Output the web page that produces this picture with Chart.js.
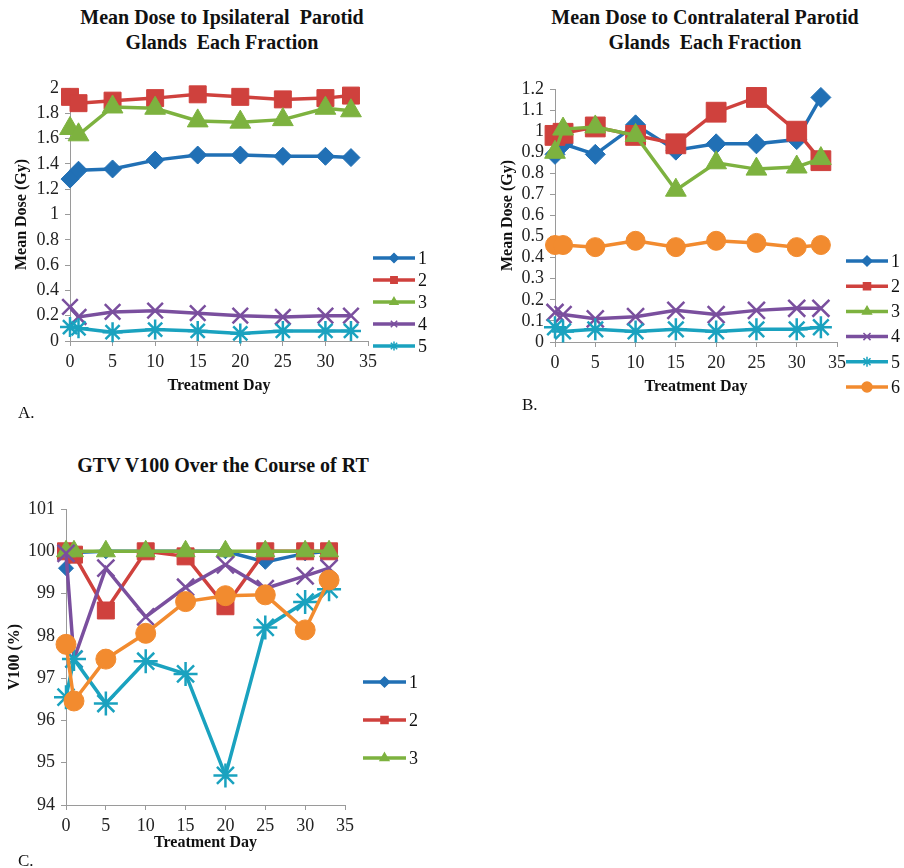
<!DOCTYPE html>
<html>
<head>
<meta charset="utf-8">
<script src="https://cdn.jsdelivr.net/npm/chart.js@4.4.1/dist/chart.umd.min.js"></script>
<style>
  body { margin: 0; background: #fff; }
  #page { position: relative; width: 904px; height: 868px; overflow: hidden;
          font-family: "Liberation Serif", "Times New Roman", serif; color: #111; }
  .box { position: absolute; }
  .ttl { position: absolute; font-weight: bold; font-size: 20px; line-height: 25px;
         text-align: center; white-space: pre; transform: translateX(-50%); }
  .lbl { position: absolute; font-size: 17px; line-height: 20px; }
</style>
</head>
<body>
<div id="page">
  <div class="ttl" style="left:222px; top:5px;">Mean Dose to Ipsilateral  Parotid
Glands  Each Fraction</div>
  <div class="ttl" style="left:705px; top:5px;">Mean Dose to Contralateral Parotid
Glands  Each Fraction</div>
  <div class="ttl" style="left:223px; top:453px;">GTV V100 Over the Course of RT</div>

  <div class="box" style="left:0; top:0;"><canvas id="chartA" width="450" height="400"></canvas></div>
  <div class="box" style="left:450px; top:0;"><canvas id="chartB" width="454" height="400"></canvas></div>
  <div class="box" style="left:0; top:420px;"><canvas id="chartC" width="450" height="448"></canvas></div>

  <div class="lbl" style="left:18px; top:403px;">A.</div>
  <div class="lbl" style="left:522px; top:395px;">B.</div>
  <div class="lbl" style="left:18px; top:851px;">C.</div>
</div>
<script>
  // treatment days (x) shared by all panels
  const days = [0, 1, 5, 10, 15, 20, 25, 30, 33];
  const seriesNames = ['1', '2', '3', '4', '5', '6'];

  // A. mean dose to ipsilateral parotid (Gy)
  const ipsi1 = [1.28, 1.35, 1.36, 1.43, 1.47, 1.47, 1.46, 1.46, 1.45];
  const ipsi2 = [1.93, 1.88, 1.90, 1.92, 1.95, 1.93, 1.91, 1.92, 1.94];
  const ipsi3 = [1.68, 1.63, 1.85, 1.84, 1.74, 1.73, 1.75, 1.84, 1.82];
  const ipsi4 = [0.27, 0.19, 0.23, 0.24, 0.22, 0.20, 0.19, 0.20, 0.20];
  const ipsi5 = [0.11, 0.10, 0.07, 0.09, 0.08, 0.06, 0.08, 0.08, 0.08];

  // B. mean dose to contralateral parotid (Gy)
  const contra1 = [0.89, 0.94, 0.89, 1.03, 0.91, 0.94, 0.94, 0.96, 1.16];
  const contra2 = [0.98, 0.99, 1.02, 0.98, 0.94, 1.09, 1.16, 1.00, 0.86];
  const contra3 = [0.90, 1.01, 1.02, 0.98, 0.72, 0.85, 0.82, 0.83, 0.87];
  const contra4 = [0.14, 0.13, 0.11, 0.12, 0.15, 0.13, 0.15, 0.16, 0.16];
  const contra5 = [0.07, 0.05, 0.06, 0.05, 0.06, 0.05, 0.06, 0.06, 0.07];
  const contra6 = [0.46, 0.46, 0.45, 0.48, 0.45, 0.48, 0.47, 0.45, 0.46];

  // C. GTV V100 (%)
  const gtv1 = [99.6, 99.97, 100, 100, 100, 100, 99.75, 99.95, 100];
  const gtv2 = [100, 99.92, 98.6, 100, 99.88, 98.7, 100, 100, 100];
  const gtv3 = [100, 100, 100, 100, 100, 100, 100, 100, 100];
  const gtv4 = [99.95, 97.45, 99.6, 98.45, 99.15, 99.68, 99.12, 99.42, 99.6];
  const gtv5 = [96.55, 97.45, 96.4, 97.4, 97.1, 94.7, 98.2, 98.8, 99.1];
  const gtv6 = [97.8, 96.46, 97.45, 98.06, 98.81, 98.95, 98.97, 98.14, 99.32];

  const fontFamily = '"Liberation Serif", "Times New Roman", serif';
  Chart.defaults.font.family = fontFamily;
  Chart.defaults.color = '#222';

  const colors = ['#2170B5', '#CF413D', '#7DB23F', '#7A4F9E', '#1AA2BF', '#F28B2F'];
  const shapes = ['rectRot', 'rect', 'triangle', 'crossRot', 'star', 'circle'];
  const axisGrey = '#9a9a9a';

  function makeSets(list, radii) {
    return list.map((vals, i) => ({
      label: seriesNames[i],
      data: days.map((d, j) => ({ x: d, y: vals[j] })),
      borderColor: colors[i],
      backgroundColor: colors[i],
      borderWidth: 3.5,
      pointStyle: shapes[i],
      pointRadius: radii[i],
      pointBorderWidth: (i == 3 || i == 4) ? 2.5 : 1,
      pointBackgroundColor: colors[i],
      pointBorderColor: colors[i],
      tension: 0,
      clip: false,
      order: list.length - i
    }));
  }

  // excel style legend: short line with the marker on it
  const lineLegend = {
    id: 'lineLegend',
    afterDraw(chart, args, opts) {
      const ctx = chart.ctx;
      ctx.save();
      for (let i = 0; i < opts.count; i++) {
        const ds = chart.data.datasets[i];
        const y = opts.y + i * opts.gap;
        ctx.strokeStyle = ds.borderColor;
        ctx.fillStyle = ds.borderColor;
        ctx.lineWidth = 3.5;
        ctx.beginPath();
        ctx.moveTo(opts.x1, y);
        ctx.lineTo(opts.x2, y);
        ctx.stroke();
        ctx.lineWidth = 1.5;
        Chart.helpers.drawPoint(ctx, { pointStyle: ds.pointStyle, radius: opts.r, borderWidth: 1.5, rotation: 0 },
          (opts.x1 + opts.x2) / 2, y);
        ctx.fillStyle = '#111';
        ctx.font = '18px ' + fontFamily;
        ctx.textBaseline = 'middle';
        ctx.fillText(ds.label, opts.x2 + 3, y + 1);
      }
      ctx.restore();
    }
  };

  function axes(o) {
    return {
      x: {
        type: 'linear', min: 0, max: 35,
        afterFit: s => { s.height = o.xh; },
        ticks: { stepSize: 5, font: { size: 18 }, color: '#222', padding: 5, maxRotation: 0, autoSkip: false },
        grid: { drawOnChartArea: false, color: axisGrey, tickLength: 5 },
        border: { color: axisGrey },
        title: { display: true, text: 'Treatment Day', color: '#111',
                 font: { size: 16, weight: 'bold' }, padding: { top: 0, bottom: o.xtp } }
      },
      y: {
        min: o.min, max: o.max,
        afterFit: s => { s.width = o.yw; },
        ticks: { stepSize: o.step, font: { size: 18 }, color: '#222', padding: 6, autoSkip: false,
                 callback: v => String(+v.toFixed(2)) },
        grid: { drawOnChartArea: false, color: axisGrey, tickLength: 5 },
        border: { color: axisGrey },
        title: { display: true, text: o.ytitle, color: '#111',
                 font: { size: 16, weight: 'bold' }, padding: { top: o.ytp, bottom: 0 } }
      }
    };
  }

  function makeChart(id, sets, o, legend) {
    return new Chart(document.getElementById(id), {
      type: 'line',
      data: { datasets: sets },
      options: {
        responsive: false,
        animation: false,
        layout: { padding: { top: o.top, right: o.right, left: 0, bottom: 0 } },
        plugins: { legend: { display: false }, tooltip: { enabled: false }, lineLegend: legend },
        scales: axes(o)
      },
      plugins: [lineLegend]
    });
  }

  makeChart('chartA',
    makeSets([ipsi1, ipsi2, ipsi3, ipsi4, ipsi5], [9, 12, 12, 11, 10]),
    { top: 88, right: 82, yw: 70, xh: 59, xtp: 4.4, ytp: 12.4, min: 0, max: 2, step: 0.2, ytitle: 'Mean Dose (Gy)' },
    { x1: 373, x2: 415, y: 258, gap: 22, count: 5, r: 4.5 });

  makeChart('chartB',
    makeSets([contra1, contra2, contra3, contra4, contra5, contra6], [10, 14, 12, 12, 11, 9.5]),
    { top: 89, right: 67, yw: 105, xh: 58, xtp: 3.4, ytp: 48.4, min: 0, max: 1.2, step: 0.1, ytitle: 'Mean Dose (Gy)' },
    { x1: 396, x2: 438, y: 261, gap: 25.2, count: 6, r: 5 });

  makeChart('chartC',
    makeSets([gtv1, gtv2, gtv3, gtv4, gtv5, gtv6], [7.5, 12, 11, 12, 12, 10]),
    { top: 89, right: 105, yw: 66, xh: 63, xtp: 15.4, ytp: 5.4, min: 94, max: 101, step: 1, ytitle: 'V100 (%)' },
    { x1: 363, x2: 406, y: 262, gap: 38, count: 3, r: 5 });
</script>
</body>
</html>
